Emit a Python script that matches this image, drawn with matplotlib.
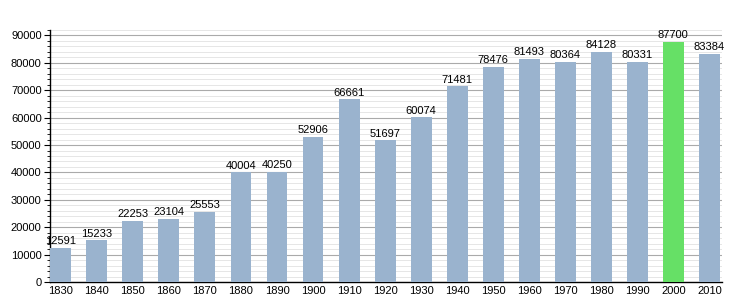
import matplotlib
matplotlib.use("Agg")
import matplotlib.pyplot as plt
import numpy as np

years = ["1830", "1840", "1850", "1860", "1870", "1880", "1890", "1900", "1910", "1920",
         "1930", "1940", "1950", "1960", "1970", "1980", "1990", "2000", "2010"]
population = [12591, 15233, 22253, 23104, 25553, 40004, 40250, 52906, 66661, 51697,
              60074, 71481, 78476, 81493, 80364, 84128, 80331, 87700, 83384]
highlight_year = "2000"

plt.rcParams['font.family'] = ['Liberation Sans', 'DejaVu Sans']

fig = plt.figure(figsize=(7.5, 3), dpi=100)
ax = fig.add_axes([50/750, 1-282/300, (722-50)/750, (282-30)/300])

x = np.arange(len(years))
colors = ['#66E066' if y == highlight_year else '#9AB3CE' for y in years]
ax.bar(x, population, width=0.58, color=colors, zorder=3)

for xi, v in zip(x, population):
    ax.text(xi, v + 600, str(v), ha='center', va='bottom', fontsize=8, zorder=4)

ax.set_xlim(-0.3, len(years) - 0.65)
ax.set_ylim(0, 92000)
ax.set_xticks(x)
ax.set_xticklabels(years, fontsize=8)
ax.set_yticks(np.arange(0, 90001, 10000))
ax.set_yticklabels([str(v) for v in range(0, 90001, 10000)], fontsize=8)
ax.set_yticks(np.arange(0, 92001, 2000), minor=True)

ax.grid(axis='y', which='major', color='#AAAAAA', linewidth=0.8, zorder=0)
ax.grid(axis='y', which='minor', color='#E2E2E2', linewidth=0.6, zorder=0)
ax.tick_params(axis='x', length=0, pad=3)
ax.tick_params(axis='y', which='major', length=4, width=0.8, direction='out', pad=2)
ax.tick_params(axis='y', which='minor', length=2.5, width=0.6, direction='out')

for s in ['top', 'right']:
    ax.spines[s].set_visible(False)
ax.spines['left'].set_linewidth(1)
ax.spines['bottom'].set_linewidth(1)

fig.savefig("out.png", dpi=100)
